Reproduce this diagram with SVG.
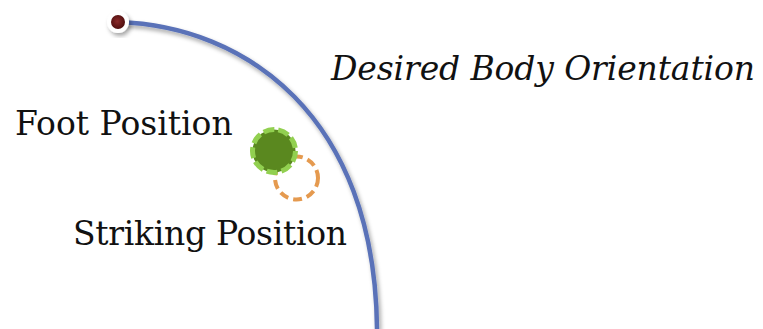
<svg xmlns="http://www.w3.org/2000/svg" width="763" height="329" viewBox="0 0 763 329">
<defs>
<style>
.lbl{font-family:"DejaVu Serif","Liberation Serif",serif;font-size:33px;fill:#111}
.it{font-style:italic}
</style>
<filter id="sh" x="-20%" y="-20%" width="140%" height="140%">
<feDropShadow dx="2" dy="3" stdDeviation="2" flood-color="#000" flood-opacity="0.35"/>
</filter>
<radialGradient id="red" cx="0.45" cy="0.45" r="0.6">
<stop offset="0" stop-color="#8a2a2a"/>
<stop offset="1" stop-color="#4a0c0c"/>
</radialGradient>
</defs>
<rect width="763" height="329" fill="#fff"/>
<g id="connectors">
<path d="M118,22 C245,26 375,115 377,329" fill="none" stroke="#5a72b8" stroke-width="4.5" filter="url(#sh)"/>
</g>
<g id="start-dot">
<circle cx="118" cy="22" r="11" fill="#fff" filter="url(#sh)"/>
<circle cx="118" cy="22" r="7" fill="url(#red)"/>
</g>
<g id="striking">
<circle cx="296.5" cy="178" r="21.5" fill="none" stroke="#e59a4f" stroke-width="4" stroke-dasharray="9,5"/>
</g>
<g id="foot">
<circle cx="274" cy="151" r="21.5" fill="#5a881f" stroke="#92d050" stroke-width="5" stroke-dasharray="11,4"/>
</g>
<g id="labels">
<text class="lbl" x="15" y="135">Foot Position</text>
<text class="lbl" x="73" y="245" textLength="274">Striking Position</text>
<text class="lbl it" x="331" y="80" textLength="424">Desired Body Orientation</text>
</g>
</svg>
